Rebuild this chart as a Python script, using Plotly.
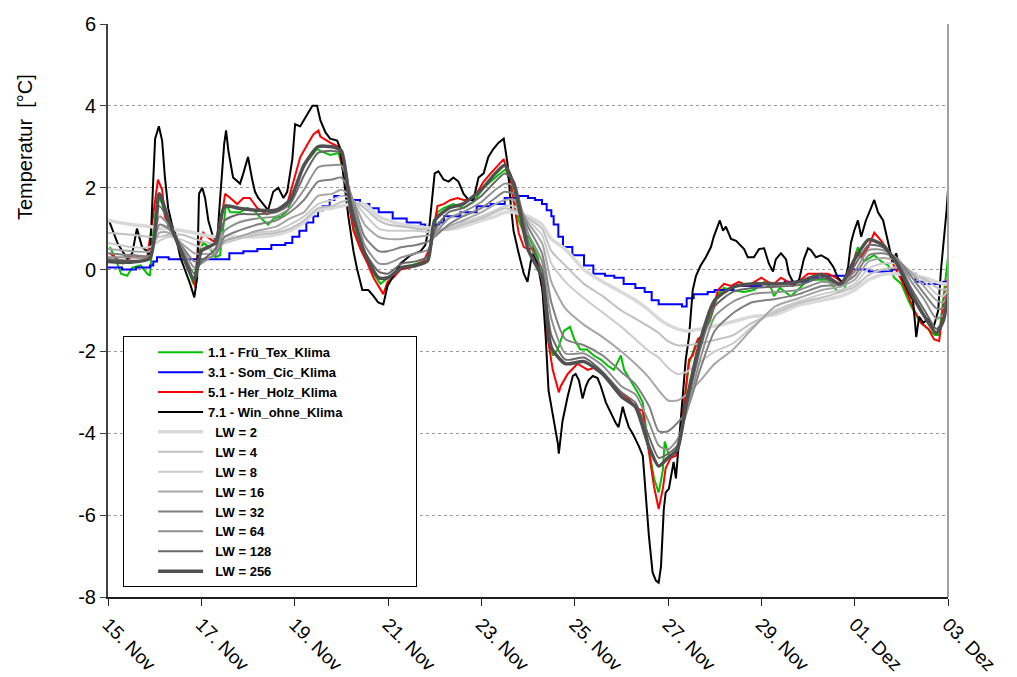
import plotly.graph_objects as go
from datetime import datetime, timedelta

BASE = datetime(2010, 11, 15)

# ---------------- data (days after 15 Nov, temperature in °C) ----------------
black_t = [0.02, 0.11, 0.21, 0.41, 0.52, 0.62, 0.73, 0.84, 0.90, 0.97, 1.01, 1.09, 1.16, 1.22, 1.29, 1.37, 1.44, 1.55, 1.65, 1.76, 1.85, 1.91, 1.95, 2.02, 2.08, 2.15, 2.25, 2.34, 2.40, 2.49, 2.53, 2.58, 2.68, 2.83, 2.90, 3.00, 3.09, 3.15, 3.22, 3.33, 3.43, 3.54, 3.65, 3.76, 3.84, 3.95, 4.01, 4.12, 4.23, 4.38, 4.48, 4.55, 4.66, 4.76, 4.91, 4.98, 5.04, 5.15, 5.26, 5.34, 5.45, 5.58, 5.69, 5.79, 5.90, 5.99, 6.09, 6.27, 6.48, 6.70, 6.80, 6.89, 7.00, 7.08, 7.19, 7.30, 7.40, 7.51, 7.62, 7.73, 7.83, 7.94, 8.05, 8.15, 8.26, 8.37, 8.48, 8.56, 8.63, 8.69, 8.80, 8.91, 8.99, 9.06, 9.12, 9.23, 9.31, 9.38, 9.44, 9.48, 9.55, 9.64, 9.66, 9.74, 9.85, 9.96, 10.02, 10.09, 10.17, 10.24, 10.30, 10.39, 10.49, 10.56, 10.67, 10.77, 10.88, 10.94, 11.03, 11.09, 11.16, 11.24, 11.31, 11.37, 11.46, 11.52, 11.59, 11.67, 11.74, 11.80, 11.85, 11.91, 11.95, 12.02, 12.10, 12.12, 12.17, 12.23, 12.32, 12.38, 12.45, 12.53, 12.60, 12.70, 12.81, 12.92, 12.98, 13.07, 13.11, 13.18, 13.24, 13.35, 13.46, 13.63, 13.71, 13.84, 13.95, 14.06, 14.16, 14.25, 14.31, 14.42, 14.53, 14.59, 14.70, 14.81, 14.91, 15.00, 15.06, 15.17, 15.28, 15.43, 15.54, 15.64, 15.77, 15.86, 15.92, 15.99, 16.07, 16.14, 16.24, 16.35, 16.42, 16.50, 16.61, 16.72, 16.82, 16.89, 17.00, 17.15, 17.25, 17.32, 17.38, 17.47, 17.58, 17.68, 17.79, 17.85, 17.92, 17.97, 18.0]
black_v = [1.2, 0.95, 0.63, 0.27, 0.4, 1.0, 0.55, 0.45, 0.3, 2.2, 3.2, 3.5, 3.15, 2.25, 1.5, 1.1, 0.87, 0.3, 0.0, -0.35, -0.68, -0.2, 1.85, 2.0, 1.75, 1.2, 0.8, 0.7, 1.7, 3.07, 3.4, 2.9, 2.25, 2.1, 2.35, 2.75, 2.2, 1.9, 1.75, 1.6, 1.45, 1.9, 2.0, 1.75, 1.9, 2.7, 3.55, 3.5, 3.7, 4.0, 4.0, 3.65, 3.35, 3.2, 3.15, 2.95, 2.35, 1.3, 0.45, 0.0, -0.5, -0.5, -0.65, -0.8, -0.85, -0.4, -0.2, 0.15, 0.35, 0.45, 0.6, 1.1, 2.35, 2.4, 2.2, 2.15, 2.25, 2.15, 1.85, 1.7, 1.7, 2.25, 2.35, 2.75, 2.95, 3.1, 3.2, 2.6, 1.6, 0.95, 0.4, -0.1, -0.3, 0.2, 0.4, 0.0, -0.5, -1.65, -2.95, -3.2, -3.7, -4.25, -4.5, -3.7, -3.1, -2.6, -2.55, -2.7, -3.15, -2.85, -2.7, -2.6, -2.65, -2.85, -3.25, -3.5, -3.75, -3.85, -3.35, -3.6, -3.85, -4.0, -4.15, -4.3, -4.55, -5.45, -6.5, -7.4, -7.6, -7.65, -7.25, -5.85, -5.45, -5.35, -4.9, -4.7, -5.1, -4.25, -3.0, -2.2, -1.65, -0.5, -0.15, 0.1, 0.3, 0.55, 0.8, 1.1, 1.2, 0.95, 1.05, 0.75, 0.7, 0.5, 0.3, 0.3, 0.5, 0.52, 0.15, -0.05, 0.25, 0.4, 0.25, -0.1, -0.35, -0.25, 0.25, 0.52, 0.48, 0.3, 0.35, 0.25, 0.07, -0.2, -0.35, 0.07, 0.65, 0.95, 1.2, 0.8, 1.2, 1.5, 1.7, 1.4, 1.2, 0.65, 0.15, 0.4, -0.15, -0.55, -0.75, -1.65, -1.15, -1.3, -1.2, -1.45, -1.0, 0.0, 0.8, 1.45, 1.95]

red_t = [0.04, 0.15, 0.32, 0.54, 0.84, 0.97, 1.07, 1.16, 1.22, 1.33, 1.44, 1.55, 1.70, 1.80, 1.88, 1.93, 2.04, 2.12, 2.25, 2.36, 2.51, 2.62, 2.77, 2.90, 3.04, 3.20, 3.41, 3.54, 3.73, 3.84, 3.97, 4.12, 4.27, 4.40, 4.51, 4.55, 4.76, 4.94, 5.04, 5.15, 5.26, 5.41, 5.56, 5.69, 5.84, 5.90, 5.99, 6.11, 6.27, 6.48, 6.76, 6.91, 7.06, 7.19, 7.34, 7.49, 7.62, 7.77, 7.92, 8.05, 8.20, 8.35, 8.48, 8.56, 8.63, 8.80, 8.91, 9.01, 9.10, 9.21, 9.31, 9.42, 9.53, 9.59, 9.66, 9.70, 9.85, 10.06, 10.28, 10.41, 10.62, 10.84, 10.99, 11.14, 11.35, 11.46, 11.52, 11.59, 11.70, 11.80, 11.89, 11.95, 12.06, 12.17, 12.27, 12.38, 12.45, 12.53, 12.64, 12.75, 12.85, 12.96, 13.07, 13.20, 13.35, 13.52, 13.71, 14.00, 14.14, 14.27, 14.42, 14.57, 14.68, 14.85, 15.00, 15.22, 15.43, 15.60, 15.77, 15.92, 16.03, 16.14, 16.29, 16.42, 16.57, 16.72, 16.85, 17.00, 17.15, 17.28, 17.42, 17.58, 17.70, 17.81, 17.92, 18.0]
red_v = [0.4, 0.3, 0.15, 0.35, 0.3, 1.35, 2.2, 1.95, 1.3, 1.05, 0.9, 0.55, 0.15, -0.2, -0.45, 0.55, 0.9, 0.8, 0.7, 0.7, 1.85, 1.75, 1.6, 1.75, 1.75, 1.5, 1.35, 1.45, 1.5, 1.6, 2.15, 2.75, 3.05, 3.3, 3.4, 3.25, 3.1, 3.0, 2.4, 1.7, 0.95, 0.5, 0.15, -0.2, -0.5, -0.6, -0.3, -0.2, 0.0, 0.05, 0.2, 0.55, 1.55, 1.6, 1.7, 1.75, 1.7, 1.7, 1.9, 2.15, 2.35, 2.55, 2.7, 2.4, 2.1, 0.9, 0.55, 0.5, 0.52, 0.15, -0.5, -1.65, -2.45, -2.7, -3.0, -2.85, -2.55, -2.3, -2.45, -2.4, -2.55, -2.85, -3.0, -3.15, -3.4, -3.45, -4.0, -4.45, -5.3, -5.85, -5.35, -4.85, -4.6, -4.55, -4.05, -3.0, -2.2, -2.1, -1.7, -1.6, -1.3, -1.0, -0.5, -0.35, -0.4, -0.3, -0.4, -0.2, -0.3, -0.35, -0.2, -0.3, -0.4, -0.25, -0.1, -0.1, -0.1, -0.2, -0.35, -0.15, 0.4, 0.3, 0.55, 0.9, 0.7, 0.45, 0.07, -0.25, -0.65, -1.0, -1.3, -1.45, -1.7, -1.75, -0.75, -0.2]

green_t = [0.04, 0.15, 0.28, 0.41, 0.52, 0.70, 0.84, 0.90, 0.97, 1.07, 1.16, 1.29, 1.44, 1.55, 1.70, 1.83, 1.93, 2.04, 2.17, 2.30, 2.40, 2.53, 2.62, 2.83, 2.98, 3.13, 3.28, 3.43, 3.56, 3.71, 3.86, 3.98, 4.12, 4.27, 4.48, 4.55, 4.76, 4.94, 5.04, 5.15, 5.26, 5.41, 5.56, 5.69, 5.84, 5.99, 6.11, 6.27, 6.48, 6.76, 6.91, 7.06, 7.19, 7.40, 7.62, 7.83, 8.05, 8.35, 8.52, 8.63, 8.80, 8.91, 9.01, 9.10, 9.21, 9.31, 9.42, 9.53, 9.64, 9.77, 9.90, 9.99, 10.12, 10.26, 10.41, 10.56, 10.71, 10.84, 10.99, 11.06, 11.20, 11.35, 11.46, 11.57, 11.70, 11.80, 11.89, 11.93, 12.02, 12.17, 12.27, 12.38, 12.45, 12.60, 12.75, 12.90, 13.07, 13.20, 13.35, 13.63, 13.84, 14.06, 14.21, 14.27, 14.40, 14.63, 14.78, 15.00, 15.43, 15.64, 15.77, 15.92, 16.07, 16.20, 16.42, 16.57, 16.72, 16.85, 17.00, 17.15, 17.28, 17.42, 17.58, 17.72, 17.81, 17.92, 18.0]
green_v = [0.55, 0.3, -0.1, -0.15, 0.05, 0.1, -0.1, -0.15, 0.9, 1.85, 1.6, 1.05, 0.8, 0.45, 0.05, -0.35, 0.4, 0.65, 0.55, 0.3, 0.35, 1.6, 1.4, 1.4, 1.5, 1.45, 1.25, 1.1, 1.25, 1.3, 1.45, 1.9, 2.35, 2.65, 2.95, 2.9, 2.8, 2.85, 2.4, 1.75, 1.0, 0.55, 0.2, -0.1, -0.35, -0.2, -0.1, 0.05, 0.1, 0.2, 0.5, 1.4, 1.5, 1.6, 1.5, 1.65, 2.0, 2.3, 2.45, 2.1, 1.2, 0.9, 0.8, 0.6, 0.3, -0.4, -1.5, -2.1, -1.95, -1.5, -1.4, -1.7, -1.95, -1.95, -2.1, -2.2, -2.35, -2.45, -2.1, -2.45, -2.7, -3.0, -3.25, -4.25, -5.1, -5.45, -4.9, -4.2, -4.55, -4.45, -4.0, -3.0, -2.3, -1.8, -1.6, -1.25, -0.6, -0.45, -0.5, -0.55, -0.5, -0.3, -0.45, -0.65, -0.45, -0.65, -0.5, -0.25, -0.25, -0.55, -0.5, 0.0, 0.55, 0.2, 0.35, 0.2, 0.1, -0.2, -0.35, -0.75, -1.05, -1.3, -1.45, -1.6, -1.6, -0.5, 0.3]

blue_t = [0.0, 0.3, 0.6, 0.9, 0.97, 1.05, 1.3, 2.6, 2.9, 3.2, 3.5, 3.8, 3.95, 4.1, 4.25, 4.4, 4.5, 4.6, 4.75, 4.85, 5.2, 5.4, 5.6, 5.8, 6.1, 6.4, 6.7, 6.8, 7.0, 7.1, 7.2, 7.55, 7.9, 8.2, 8.5, 8.8, 9.0, 9.15, 9.3, 9.4, 9.5, 9.55, 9.65, 9.75, 9.95, 10.2, 10.4, 10.65, 10.85, 11.05, 11.3, 11.5, 11.65, 11.8, 12.3, 12.4, 12.55, 12.85, 13.0, 13.4, 14.0, 14.5, 15.0, 15.3, 15.9, 16.3, 16.8, 17.0, 17.3, 17.5, 17.9, 18.0]
blue_v = [0.05, 0.0, 0.05, 0.1, 0.2, 0.3, 0.25, 0.4, 0.45, 0.5, 0.6, 0.65, 0.8, 0.95, 1.15, 1.3, 1.45, 1.55, 1.7, 1.8, 1.7, 1.6, 1.5, 1.4, 1.25, 1.15, 1.1, 1.0, 1.1, 1.15, 1.3, 1.4, 1.55, 1.6, 1.75, 1.8, 1.75, 1.7, 1.6, 1.45, 1.3, 1.1, 0.8, 0.55, 0.35, 0.1, -0.1, -0.15, -0.2, -0.35, -0.45, -0.55, -0.75, -0.85, -0.9, -0.7, -0.6, -0.55, -0.5, -0.4, -0.35, -0.3, -0.2, -0.15, 0.0, -0.05, 0.0, -0.1, -0.3, -0.35, -0.3, -0.25]

lw_t = [0.0, 0.5, 0.9, 1.1, 1.3, 1.6, 1.85, 2.0, 2.3, 2.5, 2.8, 3.2, 3.6, 3.9, 4.2, 4.5, 4.8, 5.0, 5.2, 5.5, 5.8, 6.0, 6.3, 6.6, 6.85, 7.0, 7.3, 7.6, 8.0, 8.3, 8.5, 8.7, 9.0, 9.3, 9.5, 9.8, 10.2, 10.6, 11.0, 11.3, 11.6, 11.8, 12.0, 12.2, 12.4, 12.7, 13.0, 13.4, 13.8, 14.3, 14.8, 15.3, 15.7, 16.0, 16.3, 16.6, 16.9, 17.2, 17.5, 17.75, 17.9, 18.0]
lw2_v = [1.2, 1.1, 1.05, 1.0, 1.0, 0.95, 0.9, 0.85, 0.8, 0.8, 0.8, 0.8, 0.85, 0.95, 1.15, 1.45, 1.5, 1.55, 1.6, 1.6, 1.3, 1.2, 1.1, 1.05, 1.02, 1.0, 0.98, 1.05, 1.2, 1.3, 1.4, 1.4, 1.3, 1.1, 0.75, 0.5, 0.0, -0.3, -0.55, -0.75, -1.0, -1.2, -1.35, -1.45, -1.5, -1.45, -1.38, -1.27, -1.15, -1.1, -0.87, -0.75, -0.65, -0.5, -0.25, -0.12, -0.1, -0.15, -0.2, -0.3, -0.35, -0.35]
lw4_v = [0.9, 0.85, 0.8, 0.8, 0.85, 0.85, 0.75, 0.7, 0.62, 0.65, 0.75, 0.85, 0.9, 1.0, 1.2, 1.5, 1.55, 1.65, 1.7, 1.5, 1.2, 1.1, 1.05, 1.0, 0.98, 0.97, 0.98, 1.1, 1.25, 1.4, 1.5, 1.45, 1.25, 1.0, 0.45, 0.1, -0.35, -0.65, -1.0, -1.2, -1.4, -1.55, -1.75, -1.85, -1.85, -1.8, -1.72, -1.6, -1.3, -1.05, -0.82, -0.68, -0.55, -0.42, -0.13, 0.0, 0.05, -0.08, -0.23, -0.43, -0.5, -0.45]
lw8_v = [0.65, 0.55, 0.55, 0.7, 0.8, 0.72, 0.6, 0.55, 0.5, 0.65, 0.75, 0.9, 0.95, 1.1, 1.3, 1.6, 1.7, 1.8, 1.75, 1.35, 1.0, 0.95, 0.95, 0.95, 0.92, 0.93, 1.0, 1.15, 1.3, 1.45, 1.55, 1.55, 1.2, 0.85, 0.15, -0.3, -0.7, -1.05, -1.4, -1.7, -2.0, -2.15, -2.4, -2.55, -2.5, -2.25, -2.0, -1.8, -1.4, -1.0, -0.78, -0.6, -0.5, -0.35, 0.03, 0.15, 0.15, -0.03, -0.3, -0.6, -0.65, -0.5]
lw16_v = [0.5, 0.45, 0.45, 0.9, 0.9, 0.62, 0.4, 0.38, 0.4, 0.7, 0.8, 0.95, 1.05, 1.25, 1.4, 1.8, 1.85, 1.95, 1.8, 1.1, 0.8, 0.75, 0.75, 0.8, 0.83, 0.88, 1.05, 1.2, 1.4, 1.6, 1.7, 1.7, 1.15, 0.65, -0.3, -0.95, -1.35, -1.65, -2.0, -2.3, -2.65, -2.95, -3.2, -3.2, -3.05, -2.7, -2.3, -1.95, -1.45, -0.9, -0.7, -0.5, -0.42, -0.25, 0.2, 0.28, 0.23, -0.06, -0.43, -0.75, -0.8, -0.55]
lw32_v = [0.4, 0.35, 0.35, 1.1, 1.0, 0.55, 0.2, 0.25, 0.35, 0.8, 0.95, 1.1, 1.2, 1.4, 1.7, 2.15, 2.2, 2.25, 1.85, 0.8, 0.45, 0.45, 0.55, 0.6, 0.68, 0.8, 1.1, 1.3, 1.5, 1.75, 1.9, 1.85, 1.05, 0.4, -0.8, -1.7, -1.85, -2.1, -2.5, -2.8, -3.35, -3.95, -3.95, -3.75, -3.45, -2.4, -1.5, -1.06, -0.8, -0.72, -0.6, -0.4, -0.37, -0.15, 0.35, 0.4, 0.28, -0.15, -0.6, -0.95, -0.95, -0.6]
lw64_v = [0.3, 0.3, 0.3, 1.3, 1.1, 0.5, 0.05, 0.15, 0.4, 0.95, 1.15, 1.25, 1.3, 1.5, 1.95, 2.5, 2.55, 2.55, 1.85, 0.6, 0.15, 0.15, 0.3, 0.4, 0.48, 0.85, 1.25, 1.4, 1.65, 1.95, 2.1, 2.05, 0.9, 0.2, -1.2, -2.05, -2.05, -2.35, -2.85, -3.05, -3.75, -4.3, -4.4, -4.15, -3.5, -2.15, -1.15, -0.78, -0.6, -0.55, -0.5, -0.3, -0.35, -0.05, 0.48, 0.48, 0.28, -0.27, -0.75, -1.2, -1.1, -0.6]
lw128_v = [0.25, 0.22, 0.25, 1.55, 1.2, 0.42, -0.1, 0.2, 0.5, 1.2, 1.35, 1.35, 1.4, 1.6, 2.3, 2.85, 2.9, 2.85, 1.7, 0.45, -0.05, -0.1, 0.15, 0.2, 0.32, 0.95, 1.4, 1.5, 1.8, 2.15, 2.35, 2.15, 0.7, 0.0, -1.6, -2.2, -2.15, -2.5, -3.0, -3.25, -4.1, -4.6, -4.5, -4.3, -3.35, -1.9, -0.9, -0.54, -0.45, -0.42, -0.38, -0.2, -0.35, 0.1, 0.6, 0.55, 0.23, -0.43, -1.0, -1.45, -1.25, -0.6]
lw256_v = [0.2, 0.18, 0.28, 1.85, 1.2, 0.35, -0.25, 0.45, 0.65, 1.55, 1.5, 1.45, 1.45, 1.7, 2.55, 3.0, 3.0, 2.9, 1.5, 0.4, -0.2, -0.2, 0.05, 0.1, 0.22, 1.2, 1.5, 1.6, 1.95, 2.35, 2.55, 2.05, 0.5, -0.2, -1.9, -2.3, -2.25, -2.55, -3.1, -3.35, -4.35, -4.8, -4.6, -4.4, -3.2, -1.7, -0.75, -0.42, -0.35, -0.35, -0.3, -0.12, -0.35, 0.25, 0.73, 0.6, 0.15, -0.55, -1.15, -1.55, -1.25, -0.6]

tick_days = [0, 2, 4, 6, 8, 10, 12, 14, 16, 18]
tick_labels = ["15. Nov", "17. Nov", "19. Nov", "21. Nov", "23. Nov", "25. Nov",
               "27. Nov", "29. Nov", "01. Dez", "03. Dez"]
y_ticks = [-8, -6, -4, -2, 0, 2, 4, 6]
y_tick_labels = ["-8", "-6", "-4", "-2", "0", "2", "4", "6"]


def to_dates(days):
    return [BASE + timedelta(days=d) for d in days]


NB = "\u00a0"
climate = [
    ("1.1 - Frü_Tex_Klima", green_t, green_v, "#00c000", 2, "linear"),
    ("3.1 - Som_Cic_Klima", blue_t, blue_v, "#0000ff", 2, "hv"),
    ("5.1 - Her_Holz_Klima", red_t, red_v, "#ff0000", 2, "linear"),
    ("7.1 - Win_ohne_Klima" + NB * 19, black_t, black_v, "#000000", 2, "linear"),
]
lw_series = [
    ("LW = 2", lw2_v, "#d9d9d9", 3.5),
    ("LW = 4", lw4_v, "#c0c0c0", 2),
    ("LW = 8", lw8_v, "#cbcbcb", 2),
    ("LW = 16", lw16_v, "#a6a6a6", 2),
    ("LW = 32", lw32_v, "#808080", 2),
    ("LW = 64", lw64_v, "#909090", 2),
    ("LW = 128", lw128_v, "#686868", 2),
    ("LW = 256", lw256_v, "#505050", 3.5),
]

fig = go.Figure()
for name, t, v, col, w, shape in climate:
    fig.add_trace(go.Scatter(x=to_dates(t), y=v, mode="lines", name=name,
                             line=dict(color=col, width=w, shape=shape)))
for name, v, col, w in lw_series:
    fig.add_trace(go.Scatter(x=to_dates(lw_t), y=v, mode="lines",
                             name=NB * 2 + name,
                             line=dict(color=col, width=w, shape="spline", smoothing=0.6)))

FONT = "Arial, 'Liberation Sans', sans-serif"
# page body has an 8px margin, so the figure is 8px smaller and margins are offset
fig.update_layout(
    width=1009, height=669,
    margin=dict(l=100, r=69, t=16, b=80, autoexpand=False),
    paper_bgcolor="white", plot_bgcolor="white",
    font=dict(family=FONT, color="black", size=19),
    showlegend=True,
    legend=dict(x=0.018, y=0.455, xanchor="left", yanchor="top",
                bgcolor="white", bordercolor="black", borderwidth=1,
                font=dict(family=FONT, size=13, color="black", weight="bold"),
                tracegroupgap=0, traceorder="normal", itemwidth=45,
                indentation=29),
    xaxis=dict(type="date", range=[BASE, BASE + timedelta(days=18)],
               tickvals=to_dates(tick_days), ticktext=tick_labels,
               tickangle=45, ticks="outside", ticklen=7, tickwidth=1, tickcolor="#202020",
               showline=True, linecolor="#202020", linewidth=2,
               showgrid=False, zeroline=False, automargin=False,
               tickfont=dict(family=FONT, size=19)),
    yaxis=dict(range=[-8, 6], tickvals=y_ticks, ticktext=y_tick_labels,
               ticks="outside", ticklen=6, tickwidth=1, tickcolor="#404040",
               showline=True, linecolor="#404040", linewidth=2,
               showgrid=True, gridcolor="#9a9a9a", griddash="dot", gridwidth=1,
               zeroline=False, automargin=False, tickfont=dict(family=FONT, size=20)),
    shapes=[dict(type="line", xref="paper", yref="paper", x0=1, x1=1, y0=0, y1=1,
                 line=dict(color="#a0a0a0", width=2))],
    annotations=[dict(text="Temperatur  [°C]", xref="paper", yref="paper",
                      x=-0.099, y=0.785, textangle=-90, showarrow=False,
                      xanchor="center", yanchor="middle",
                      font=dict(family=FONT, size=20, color="black"))],
)

fig.write_html("out.html")
